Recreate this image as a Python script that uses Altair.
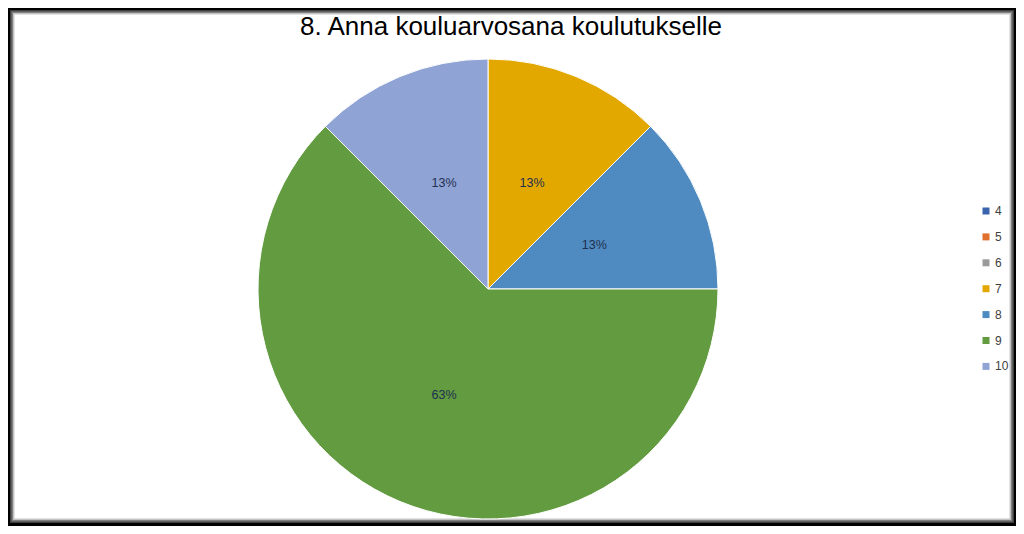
import altair as alt
import pandas as pd

grades = ["4", "5", "6", "7", "8", "9", "10"]
counts = [0, 0, 0, 1, 1, 5, 1]
colors = ["#3B64AE", "#E0702D", "#9A9A9A", "#E3A800", "#4F8BC0", "#629B40", "#8FA3D5"]
title_text = "8. Anna kouluarvosana koulutukselle"

df = pd.DataFrame({"grade": grades, "count": counts, "ord": list(range(len(grades)))})
one = pd.DataFrame({"a": [0]})

# soft frame (white card on black background)
frame = []
for c, inset in [("#404040", 2), ("#808080", 3.5), ("#c4c4c4", 5), ("#ffffff", 6.5)]:
    frame.append(
        alt.Chart(one).mark_rect(color=c).encode(
            x=alt.value(inset), x2=alt.value(1008 - inset),
            y=alt.value(inset), y2=alt.value(517 - inset),
        )
    )

CX, CY = 480, 281

pie = alt.Chart(df).transform_filter("datum.count > 0").mark_arc(
    radius=230, stroke="white", strokeWidth=1
).encode(
    theta=alt.Theta("count:Q", stack=True),
    color=alt.Color(
        "grade:N",
        sort=grades,
        scale=alt.Scale(domain=grades, range=colors),
        legend=alt.Legend(
            title=None, orient="none", legendX=972, legendY=197,
            symbolType="square", symbolSize=49, symbolStrokeWidth=0,
            labelFontSize=12, labelFont="Liberation Sans", labelColor="#404040",
            rowPadding=13.9, padding=0, labelOffset=3,
        ),
    ),
    order=alt.Order("ord:Q"),
    x=alt.value(CX), y=alt.value(CY),
)

labels = alt.Chart(df).transform_filter("datum.count > 0").transform_joinaggregate(
    total="sum(count)"
).transform_calculate(pct="datum.count / datum.total").mark_text(
    radius=115, fontSize=12.5, font="Liberation Sans", color="#1F3050"
).encode(
    theta=alt.Theta("count:Q", stack=True),
    order=alt.Order("ord:Q"),
    text=alt.Text("pct:Q", format=".0%"),
    x=alt.value(CX), y=alt.value(CY),
)

title = alt.Chart(pd.DataFrame({"t": [title_text]})).mark_text(
    fontSize=26, font="Liberation Sans", color="#000000", align="center", baseline="alphabetic"
).encode(text="t:N", x=alt.value(503), y=alt.value(27))

chart = alt.layer(*frame, pie, labels, title).properties(
    width=1008, height=518,
    autosize=alt.AutoSizeParams(type="none"),
    padding=0,
).configure(background="black").configure_view(strokeWidth=0)

chart.save("out.html", embed_options={"renderer": "svg", "actions": False})
